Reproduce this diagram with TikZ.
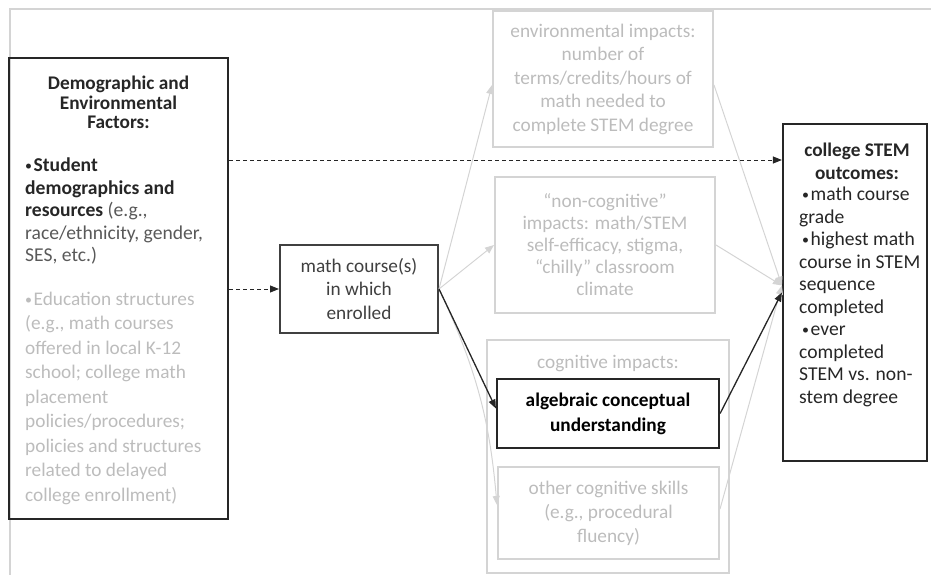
\documentclass[tikz,border=0pt]{standalone}
\usepackage{fontspec}
\setmainfont{Carlito}
\usepackage{tikz}
\usetikzlibrary{arrows.meta,positioning}
\definecolor{boxink}{RGB}{38,38,38}
\definecolor{courseink}{RGB}{64,64,64}
\definecolor{noteink}{RGB}{89,89,89}
\definecolor{paleline}{RGB}{212,212,212}
\definecolor{paletext}{RGB}{188,188,188}
\newcommand{\bul}{{\fontsize{14}{14}\selectfont\raisebox{1pt}{\textbullet}}\hspace{1.5pt}}

\begin{document}
\begin{tikzpicture}[x=1pt,y=-1pt,
  txt/.style={inner sep=0pt,font=\fontsize{19.6}{22.5}\selectfont},
  hard/.style={rectangle,draw=boxink,line width=2.2pt,inner sep=0pt,align=center},
  soft/.style={rectangle,draw=paleline,line width=2pt,inner sep=0pt,align=center,text=paletext,font=\fontsize{19.3}{22.5}\selectfont},
  link/.style={-{Triangle[length=9pt,width=7pt]},line width=1.3pt,boxink},
  faint/.style={-{Triangle[length=9pt,width=7pt]},line width=1pt,paleline},
  dashlink/.style={link,line width=1pt,dash pattern=on 4pt off 3pt}]
\useasboundingbox (0,0) rectangle (931,575);
\coordinate (fr1) at (931,9); \coordinate (fr2) at (10,9); \coordinate (fr3) at (10,575);
\draw[paleline,line width=2pt] (fr1) -- (fr2) -- (fr3);
\node[hard,minimum width=219pt,minimum height=461pt] (demo) at (118.5,288.5) {};
\node[txt,align=center,text=boxink,font=\fontsize{19.3}{19.5}\selectfont\bfseries] (demotitle) at (118.5,102.5) {Demographic and\\Environmental\\Factors:};
\node[txt,align=left,anchor=west,text=boxink] (demostu) at (25,211) {\bul\textbf{Student}\\\textbf{demographics and}\\\textbf{resources} {\color{noteink}(e.g.,}\\{\color{noteink}race/ethnicity, gender,}\\{\color{noteink}SES, etc.)}};
\node[txt,align=left,anchor=west,text=paletext,font=\fontsize{19.3}{24.5}\selectfont] (demoedu) at (25,398) {\bul Education structures\\(e.g., math courses\\offered in local K-12\\school; college math\\placement\\policies/procedures;\\policies and structures\\related to delayed\\college enrollment)};
\node[hard,draw=courseink,line width=2pt,minimum width=158pt,minimum height=88pt,text=courseink,font=\fontsize{19.3}{23.5}\selectfont] (math) at (359,289) {math course(s)\\in which\\enrolled};
\node[soft,minimum width=220pt,minimum height=136pt,font=\fontsize{19.3}{23.5}\selectfont] (env) at (603,79) {environmental impacts:\\number of\\terms/credits/hours of\\math needed to\\complete STEM degree};
\node[soft,minimum width=220pt,minimum height=136pt,font=\fontsize{19.3}{22}\selectfont] (noncog) at (605,245) {“non-cognitive”\\impacts: math/STEM\\self-efficacy, stigma,\\“chilly” classroom\\climate};
\node[soft,minimum width=242pt,minimum height=233pt] (cog) at (608,456.5) {};
\node[txt,text=paletext,font=\fontsize{19.3}{22.5}\selectfont] (cogtitle) at (608,363) {cognitive impacts:};
\node[hard,minimum width=222pt,minimum height=69pt,font=\fontsize{19.3}{25}\selectfont\bfseries] (alg) at (608,413.5) {algebraic conceptual\\understanding};
\node[soft,minimum width=221pt,minimum height=92pt,font=\fontsize{19.3}{24}\selectfont] (other) at (608.5,513) {other cognitive skills\\(e.g., procedural\\fluency)};
\node[hard,minimum width=144pt,minimum height=337pt] (out) at (855,292.5) {};
\node[txt,align=center,text=boxink,font=\fontsize{19.3}{23}\selectfont\bfseries] (outtitle) at (857,161.5) {college STEM\\outcomes:};
\node[txt,align=left,anchor=west,text=boxink] (outlist) at (799,297) {\hspace{3pt}\bul math course\\grade\\\hspace{3pt}\bul highest math\\course in STEM\\sequence\\completed\\\hspace{3pt}\bul ever\\completed\\STEM vs. non-\\stem degree};
\coordinate (demohi) at (demo.east |- 0,160);
\coordinate (outhi) at (out.west |- 0,160);
\coordinate (envin) at ([yshift=-6pt]env.west);
\coordinate (otherin) at ([yshift=8pt]other.west);
\coordinate (algin) at ([yshift=5pt]alg.west);
\coordinate (outin) at ([yshift=7pt]out.west);
\coordinate (envout) at ([yshift=-6pt]env.east);
\coordinate (otherout) at ([yshift=4pt]other.east);
\foreach \u/\v in {math.east/envin,math.east/noncog.west,envout/outin,noncog.east/outin,otherout/outin} \draw[faint] (\u) -- (\v);
\draw[faint] (math.east) to[bend left=10] (otherin);
\draw[dashlink] (demohi) -- (outhi);
\draw[dashlink] (demo.east |- math.west) -- (math.west);
\foreach \u/\v in {math.east/algin,alg.east/out.west} \draw[link] (\u) -- (\v);
\end{tikzpicture}
\end{document}
